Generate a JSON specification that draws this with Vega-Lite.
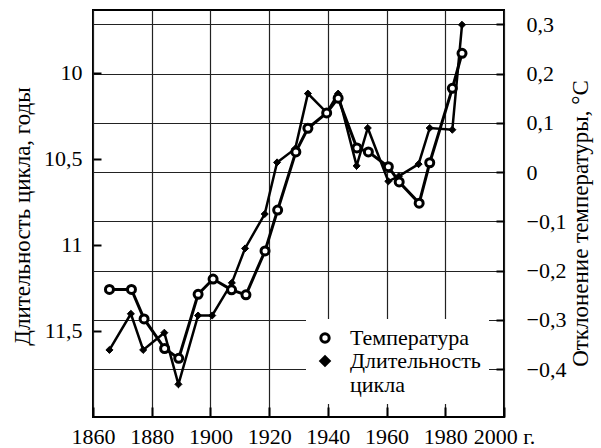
{
  "$schema": "https://vega.github.io/schema/vega-lite/v6.json",
  "width": 411,
  "height": 407,
  "autosize": {"type": "none"},
  "padding": {"left": 93, "top": 10, "right": 97, "bottom": 31},
  "background": "white",
  "config": {
    "view": {"stroke": "black", "strokeWidth": 2},
    "font": "Liberation Serif",
    "axis": {
      "labelFont": "Liberation Serif", "labelFontSize": 22, "labelColor": "black",
      "titleFont": "Liberation Serif", "titleFontSize": 23, "titleFontWeight": "normal", "titleColor": "black",
      "domain": false, "tickColor": "black", "tickWidth": 2,
      "gridColor": "#222", "gridWidth": 1.2, "gridOpacity": 1
    },
    "legend": {
      "orient": "none", "legendX": 213, "legendY": 309,
      "fillColor": "white", "padding": 8,
      "labelFont": "Liberation Serif", "labelFontSize": 22, "labelColor": "black",
      "symbolStrokeWidth": 3, "symbolStrokeColor": "black", "symbolSize": 70,
      "labelOffset": 14, "rowPadding": 1, "labelLimit": 300
    }
  },
  "datasets": {
    "temperature": [
      {"year": 1865.6, "temp": -0.238},
      {"year": 1873.1, "temp": -0.238},
      {"year": 1877.4, "temp": -0.298},
      {"year": 1884.4, "temp": -0.358},
      {"year": 1889.2, "temp": -0.378},
      {"year": 1895.8, "temp": -0.248},
      {"year": 1900.9, "temp": -0.217},
      {"year": 1907.2, "temp": -0.239},
      {"year": 1912.1, "temp": -0.249},
      {"year": 1918.6, "temp": -0.160},
      {"year": 1922.9, "temp": -0.077},
      {"year": 1929.1, "temp": 0.041},
      {"year": 1933.2, "temp": 0.089},
      {"year": 1939.6, "temp": 0.120},
      {"year": 1943.5, "temp": 0.150},
      {"year": 1949.9, "temp": 0.049},
      {"year": 1953.8, "temp": 0.041},
      {"year": 1960.6, "temp": 0.011},
      {"year": 1964.3, "temp": -0.020},
      {"year": 1971.1, "temp": -0.063},
      {"year": 1974.7, "temp": 0.019},
      {"year": 1982.4, "temp": 0.170},
      {"year": 1985.7, "temp": 0.241}
    ],
    "cycle": [
      {"year": 1865.6, "length": 11.61},
      {"year": 1872.9, "length": 11.40},
      {"year": 1877.1, "length": 11.61},
      {"year": 1884.3, "length": 11.51},
      {"year": 1889.1, "length": 11.81},
      {"year": 1895.8, "length": 11.41},
      {"year": 1900.6, "length": 11.41},
      {"year": 1907.3, "length": 11.22},
      {"year": 1911.8, "length": 11.02},
      {"year": 1918.5, "length": 10.82},
      {"year": 1922.7, "length": 10.52},
      {"year": 1928.9, "length": 10.44},
      {"year": 1933.2, "length": 10.12},
      {"year": 1939.6, "length": 10.23},
      {"year": 1943.5, "length": 10.12},
      {"year": 1949.8, "length": 10.54},
      {"year": 1953.6, "length": 10.32},
      {"year": 1960.6, "length": 10.63},
      {"year": 1964.2, "length": 10.60},
      {"year": 1970.9, "length": 10.53},
      {"year": 1974.7, "length": 10.32},
      {"year": 1982.4, "length": 10.33},
      {"year": 1985.7, "length": 9.72}
    ]
  },
  "encoding": {
    "x": {
      "field": "year", "type": "quantitative",
      "scale": {"domain": [1860, 2000], "nice": false, "zero": false},
      "axis": {
        "title": null, "grid": true,
        "values": [1860, 1880, 1900, 1920, 1940, 1960, 1980, 2000],
        "labelExpr": "datum.value == 2000 ? '2000 г.' : toString(datum.value)",
        "labelFlush": false, "labelOverlap": false,
        "tickSize": -10, "labelPadding": 19
      }
    }
  },
  "layer": [
    {
      "data": {"name": "cycle"},
      "encoding": {
        "y": {
          "field": "length", "type": "quantitative",
          "scale": {"domain": [9.634, 12], "reverse": true, "nice": false, "zero": false},
          "axis": {
            "orient": "left", "grid": false,
            "title": "Длительность цикла, годы",
            "values": [10, 10.5, 11, 11.5],
            "labelExpr": "replace(toString(datum.value), '.', ',')",
            "tickSize": -8, "labelPadding": 19,
            "titleX": -71, "titleY": 206, "titleAngle": 270,
            "titleAlign": "center", "titleBaseline": "middle"
          }
        }
      },
      "layer": [
        {"mark": {"type": "line", "color": "black", "strokeWidth": 2.5}},
        {
          "mark": {"type": "point", "filled": true, "strokeWidth": 1, "size": 50, "opacity": 1},
          "encoding": {
            "shape": {"datum": "Длительность цикла", "scale": {"domain": ["Температура", "Длительность цикла"], "range": ["circle", "diamond"]}, "legend": {"title": null, "symbolStrokeColor": "black", "labelExpr": "datum.label == 'Длительность цикла' ? ['Длительность', 'цикла'] : datum.label"}},
            "fill": {"datum": "Длительность цикла", "scale": {"domain": ["Температура", "Длительность цикла"], "range": ["white", "black"]}, "legend": {"title": null, "symbolStrokeColor": "black", "labelExpr": "datum.label == 'Длительность цикла' ? ['Длительность', 'цикла'] : datum.label"}},
            "stroke": {"datum": "Длительность цикла", "scale": {"domain": ["Температура", "Длительность цикла"], "range": ["black", "black"]}, "legend": {"title": null, "labelExpr": "datum.label == 'Длительность цикла' ? ['Длительность', 'цикла'] : datum.label"}}
          }
        }
      ]
    },
    {
      "data": {"name": "temperature"},
      "encoding": {
        "y": {
          "field": "temp", "type": "quantitative",
          "scale": {"domain": [-0.497, 0.329], "nice": false, "zero": false},
          "axis": {
            "orient": "right", "grid": true,
            "title": "Отклонение температуры, °С",
            "values": [-0.4, -0.3, -0.2, -0.1, 0, 0.1, 0.2, 0.3],
            "labelExpr": "datum.value >= 0 ? ' ' + (datum.value == 0 ? '0' : replace(format(datum.value, '.1f'), '.', ',')) : replace(format(datum.value, '.1f'), '.', ',')",
            "labelAlign": "left",
            "tickSize": -8, "labelPadding": 30,
            "titleX": 76, "titleY": 213, "titleAngle": 270,
            "titleAlign": "center", "titleBaseline": "middle"
          }
        }
      },
      "layer": [
        {"mark": {"type": "line", "color": "black", "strokeWidth": 3}},
        {
          "mark": {"type": "point", "filled": true, "strokeWidth": 3, "size": 64, "opacity": 1},
          "encoding": {
            "shape": {"datum": "Температура", "scale": {"domain": ["Температура", "Длительность цикла"], "range": ["circle", "diamond"]}, "legend": {"title": null, "symbolStrokeColor": "black", "labelExpr": "datum.label == 'Длительность цикла' ? ['Длительность', 'цикла'] : datum.label"}},
            "fill": {"datum": "Температура", "scale": {"domain": ["Температура", "Длительность цикла"], "range": ["white", "black"]}, "legend": {"title": null, "symbolStrokeColor": "black", "labelExpr": "datum.label == 'Длительность цикла' ? ['Длительность', 'цикла'] : datum.label"}},
            "stroke": {"datum": "Температура", "scale": {"domain": ["Температура", "Длительность цикла"], "range": ["black", "black"]}, "legend": {"title": null, "labelExpr": "datum.label == 'Длительность цикла' ? ['Длительность', 'цикла'] : datum.label"}}
          }
        }
      ]
    }
  ],
  "resolve": {"scale": {"y": "independent"}, "axis": {"y": "independent"}}
}
